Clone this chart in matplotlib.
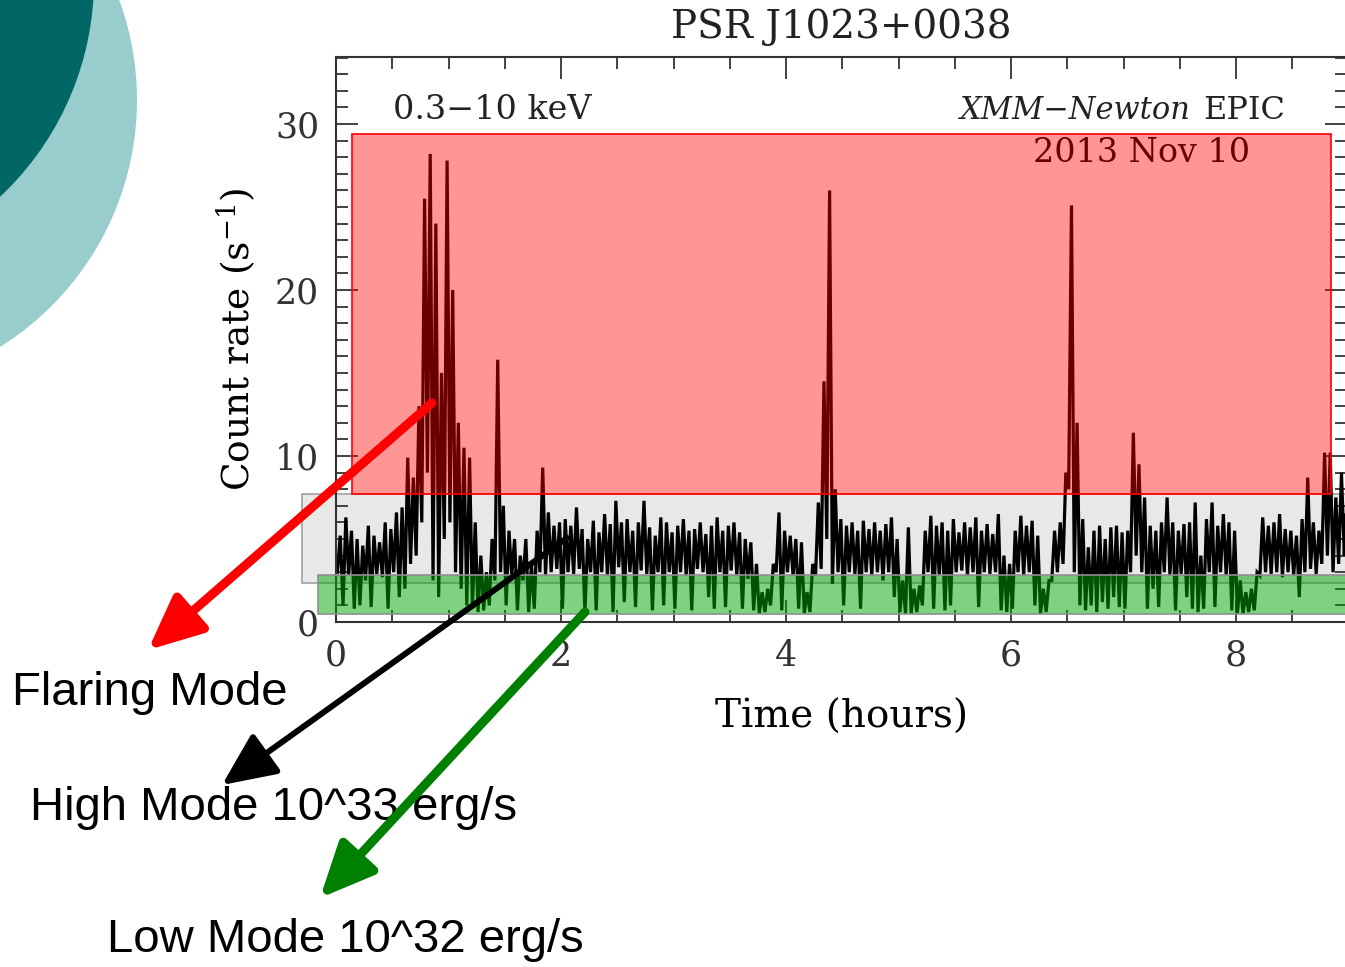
"""
PSR J1023+0038 - XMM-Newton light curve slide with mode annotations
"""

import numpy as np
import matplotlib
matplotlib.use("Agg")
import matplotlib.pyplot as plt
import matplotlib.ticker as mticker
from matplotlib.patches import Rectangle, Circle

# ── Style ─────────────────────────────────────────────────────────────────────
plt.rcParams.update({
    "font.family":      "DejaVu Serif",
    "mathtext.fontset": "dejavuserif",
    "axes.edgecolor":   "#333333",
    "axes.linewidth":   1.5,
    "text.color":       "#222222",
    "xtick.color":      "#333333",
    "ytick.color":      "#333333",
})

# ── Data (count rate in 0.05 h bins: low / high excursion per bin) ───────────
BIN_HR = 0.05

rate_lo = [
    3.0, 1.0, 2.8, 0.8, 1.0, 2.5, 0.9, 2.9, 2.7, 0.8, 3.0, 1.5, 2.0, 3.5, 4.0, 6.0, 9.0, 2.5, 1.5, 5.0,
    6.0, 3.0, 2.0, 1.0, 0.8, 0.6, 0.7, 1.0, 2.5, 3.0, 1.0, 2.8, 0.7, 2.5, 0.6, 0.8, 3.0, 2.8, 3.0, 3.2,
    0.8, 3.0, 2.9, 3.2, 0.6, 3.0, 0.7, 3.0, 2.8, 0.6, 3.3, 1.2, 3.0, 0.9, 3.1, 2.9, 0.7, 3.0, 1.0, 3.0,
    0.8, 3.0, 2.8, 0.7, 3.2, 3.0, 1.5, 0.8, 3.0, 0.9, 3.1, 2.8, 0.8, 2.6, 0.7, 0.5, 0.6, 1.0, 3.0, 0.7,
    3.0, 2.8, 0.8, 0.5, 0.6, 2.8, 3.2, 5.0, 2.3, 3.0, 1.0, 3.0, 2.9, 0.8, 3.0, 2.8, 3.0, 2.5, 3.0, 1.5,
    0.6, 0.5, 0.5, 0.6, 1.0, 3.0, 0.8, 2.8, 0.7, 1.0, 3.0, 3.1, 2.8, 3.0, 0.9, 3.0, 2.9, 3.0, 0.7, 0.6,
    0.8, 3.0, 2.8, 3.0, 1.0, 0.5, 0.6, 2.5, 3.0, 3.5, 8.0, 3.0, 1.0, 0.7, 1.0, 0.6, 1.2, 0.8, 1.5, 0.9,
    0.8, 3.0, 4.0, 3.0, 0.8, 2.0, 0.9, 3.0, 2.8, 0.7, 2.9, 1.5, 0.8, 0.6, 0.8, 3.0, 0.9, 3.0, 2.8, 0.7,
    0.5, 0.5, 0.6, 0.7, 2.8, 3.0, 2.9, 3.0, 2.7, 3.0, 2.8, 1.5, 3.0, 3.2, 2.9, 3.5, 4.0, 3.0, 3.5, 4.0,
]
rate_hi = [
    5.2, 6.3, 5.5, 5.0, 4.6, 5.8, 5.2, 4.8, 6.0, 5.6, 6.6, 6.9, 9.9, 8.7, 13.0, 25.5, 28.2, 24.0, 15.0, 27.8,
    20.0, 12.0, 10.5, 9.9, 6.0, 4.0, 3.0, 5.0, 15.8, 7.0, 5.5, 5.0, 4.0, 5.0, 3.5, 5.5, 9.3, 6.6, 5.8, 6.0,
    6.2, 5.8, 6.9, 5.6, 5.0, 6.1, 5.4, 6.5, 5.9, 7.3, 6.0, 6.2, 5.5, 6.0, 7.3, 5.7, 5.2, 6.3, 6.0, 5.4,
    5.8, 6.2, 5.5, 5.6, 6.0, 5.3, 5.8, 6.3, 5.5, 5.8, 6.0, 5.4, 5.0, 4.8, 3.5, 1.8, 2.0, 3.5, 6.6, 5.5,
    5.2, 5.0, 4.8, 1.8, 3.5, 7.2, 14.5, 26.0, 8.0, 6.2, 5.8, 6.0, 5.5, 6.1, 5.6, 6.0, 5.5, 5.9, 6.3, 5.0,
    2.5, 5.7, 2.0, 2.2, 5.5, 6.4, 5.8, 6.0, 5.5, 6.2, 5.4, 6.0, 5.7, 6.3, 5.5, 5.9, 5.3, 6.5, 4.0, 3.5,
    5.5, 6.4, 5.8, 6.1, 5.2, 2.0, 2.5, 5.5, 6.0, 9.0, 25.1, 12.0, 6.2, 4.5, 5.5, 5.8, 5.0, 5.7, 5.8, 5.4,
    5.5, 11.4, 9.5, 7.5, 5.8, 5.5, 6.0, 7.5, 6.0, 5.5, 5.9, 6.0, 7.2, 4.0, 6.2, 7.2, 5.8, 6.5, 6.0, 5.5,
    2.5, 1.8, 2.0, 3.0, 6.3, 5.8, 6.0, 6.5, 5.6, 5.5, 5.2, 6.2, 8.7, 6.0, 5.5, 10.2, 10.2, 7.5, 9.0, 8.0,
]

# mode bands (hours, count rate)
flare_box = {"t0": 0.14, "t1": 8.84, "r0": 7.71, "r1": 29.4}
high_box  = {"t0": -0.30, "t1": 10.0, "r0": 2.35, "r1": 7.71}
low_box   = {"t0": -0.16, "t1": 10.0, "r0": 0.48, "r1": 2.83}

x_ticks = [0, 2, 4, 6, 8]
y_ticks = [0, 10, 20, 30]

# ── Figure ────────────────────────────────────────────────────────────────────
fig = plt.figure(figsize=(13.45, 9.67), dpi=100)
fig.patch.set_facecolor("white")

# slide decoration circles (top-left corner)
fig.add_artist(Circle((-1.54, 8.67), 2.91, transform=fig.dpi_scale_trans,
                      facecolor="#99cccc", edgecolor="none", zorder=-2))
fig.add_artist(Circle((-2.03, 9.87), 2.97, transform=fig.dpi_scale_trans,
                      facecolor="#006666", edgecolor="none", zorder=-1))

ax = fig.add_axes([336 / 1345, 1 - 622 / 967, 1011 / 1345, 565 / 967])
ax.set_facecolor("none")

# light curve, zig-zag between low/high excursions of each bin
t = np.arange(len(rate_lo)) * BIN_HR
xs = np.column_stack([t + 0.0125, t + 0.0375]).ravel()
ys = np.column_stack([rate_lo, rate_hi]).ravel()
ax.plot(xs, ys, color="black", lw=2.3, zorder=2, solid_joinstyle="miter")

# mode boxes
ax.add_patch(Rectangle((high_box["t0"], high_box["r0"]),
                       high_box["t1"] - high_box["t0"], high_box["r1"] - high_box["r0"],
                       facecolor="#e8e8e8", edgecolor="#a0a0a0", lw=1.2,
                       clip_on=False, zorder=1))
ax.add_patch(Rectangle((flare_box["t0"], flare_box["r0"]),
                       flare_box["t1"] - flare_box["t0"], flare_box["r1"] - flare_box["r0"],
                       facecolor=(1, 0, 0, 0.41), edgecolor="red", lw=1.2,
                       clip_on=False, zorder=3))
ax.add_patch(Rectangle((low_box["t0"], low_box["r0"]),
                       low_box["t1"] - low_box["t0"], low_box["r1"] - low_box["r0"],
                       facecolor=(0, 0.65, 0, 0.5), edgecolor="#909090", lw=1.2,
                       clip_on=False, zorder=3))

# in-plot labels
ax.text(0.507, 30.84, "0.3\u221210 keV", fontsize=24, ha="left", va="center", zorder=4)
ax.text(7.60, 30.84, "XMM\u2212Newton", fontsize=22, style="italic",
        ha="right", va="center", zorder=4)
ax.text(8.436, 30.84, "EPIC", fontsize=23, ha="right", va="center", zorder=4)
ax.text(8.124, 28.25, "2013 Nov 10", fontsize=24, ha="right", va="center",
        color="black", zorder=2.5)

# axes / ticks
ax.set_xlim(0, 1011 / 112.5)
ax.set_ylim(0, 565 / 16.6)
ax.set_xticks(x_ticks)
ax.set_yticks(y_ticks)
ax.xaxis.set_minor_locator(mticker.MultipleLocator(0.5))
ax.yaxis.set_minor_locator(mticker.MultipleLocator(1))
ax.tick_params(which="both", direction="in", top=True, right=True, width=1.3)
ax.tick_params(which="major", length=16, labelsize=25, pad=12)
ax.tick_params(which="minor", length=8.5)

ax.set_title("PSR J1023+0038", fontsize=28, pad=14)
ax.set_xlabel("Time (hours)", fontsize=28, labelpad=19)
ax.set_ylabel("Count rate (s$^{-1}$)", fontsize=27, labelpad=12)

# ── Mode annotations ──────────────────────────────────────────────────────────
arrows = [
    ((432, 564), (148, 317), "red", 6.5),
    ((567, 429), (222, 182), "black", 4.3),
    ((585, 355), (320, 69), "green", 6.5),
]
for tail, tip, col, lw in arrows:
    fig.add_artist(plt.Annotation(
        "", xy=tip, xytext=tail, xycoords="figure pixels", textcoords="figure pixels",
        arrowprops=dict(arrowstyle="-|>,head_length=1.1,head_width=0.5",
                        mutation_scale=30, color=col, lw=lw,
                        shrinkA=0, shrinkB=0),
        zorder=10))

label_kw = dict(fontsize=34, family="Liberation Sans", color="black", va="center", ha="left")
fig.text(12 / 1345, 1 - 693 / 967, "Flaring Mode", **label_kw)
fig.text(30 / 1345, 1 - 808 / 967, "High Mode 10^33 erg/s", **label_kw)
fig.text(107 / 1345, 1 - 940 / 967, "Low Mode 10^32 erg/s", **label_kw)

fig.savefig("out.png", dpi=100, facecolor="white")
